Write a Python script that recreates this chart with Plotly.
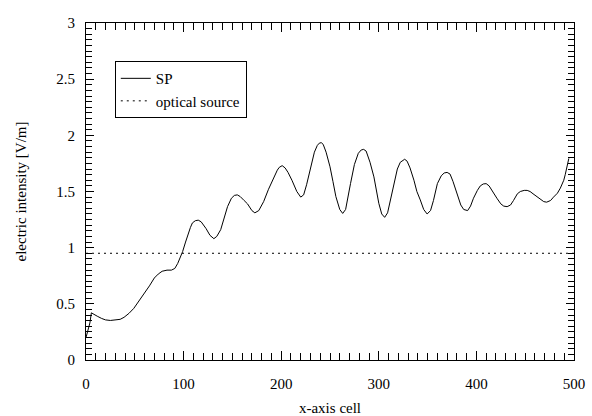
import plotly.graph_objects as go

# SP curve: x-axis cell vs electric intensity [V/m]
sp_x = [0, 1, 4, 5.5, 8, 11.5, 16, 20, 25, 30.5, 35, 39, 44, 49, 54, 59.5, 65, 70,
        74, 78, 83, 87.5, 91, 94, 97, 99, 102, 104, 107, 109, 112, 115, 118, 123,
        127, 131, 134, 138, 141, 145, 149, 152, 155, 158, 162, 165.5, 170, 173,
        177, 182, 187, 192, 196, 198, 201, 204, 207, 211, 216, 220, 223, 226,
        230, 234, 237, 239, 241, 243, 246, 250, 253, 256, 260, 263, 266, 268,
        271, 275, 279, 282, 284.5, 287, 291, 295, 300, 303, 306, 309, 312, 315,
        319, 322, 324.5, 326.5, 329, 332, 336, 339, 342.5, 346, 349.5, 353,
        356, 360, 364, 367, 370, 373, 376, 380, 384, 387, 391, 394, 397, 401,
        404, 407, 410, 413, 417, 421, 425, 428, 431.5, 435, 438, 442, 445, 449,
        452, 455, 458, 462, 466, 469, 472, 476, 479, 483, 486, 489.5, 491, 493,
        494, 494.7]
sp_y = [0.20, 0.23, 0.33, 0.42, 0.41, 0.39, 0.37, 0.357, 0.352, 0.355, 0.362,
        0.38, 0.415, 0.46, 0.52, 0.59, 0.66, 0.73, 0.765, 0.79, 0.80, 0.80,
        0.815, 0.86, 0.915, 0.965, 1.05, 1.11, 1.18, 1.22, 1.24, 1.245, 1.23,
        1.17, 1.11, 1.08, 1.10, 1.16, 1.25, 1.365, 1.44, 1.465, 1.47, 1.455,
        1.42, 1.39, 1.33, 1.31, 1.33, 1.41, 1.52, 1.62, 1.69, 1.715, 1.73,
        1.71, 1.67, 1.60, 1.50, 1.45, 1.47, 1.56, 1.72, 1.85, 1.91, 1.93,
        1.935, 1.92, 1.85, 1.72, 1.59, 1.455, 1.34, 1.305, 1.34, 1.42, 1.57,
        1.74, 1.84, 1.87, 1.875, 1.86, 1.76, 1.63, 1.395, 1.30, 1.27, 1.31,
        1.43, 1.57, 1.70, 1.76, 1.78, 1.787, 1.77, 1.71, 1.60, 1.50, 1.425,
        1.34, 1.30, 1.33, 1.42, 1.57, 1.64, 1.665, 1.67, 1.655, 1.59, 1.48,
        1.38, 1.34, 1.33, 1.37, 1.44, 1.51, 1.55, 1.567, 1.57, 1.55, 1.49,
        1.44, 1.39, 1.37, 1.365, 1.38, 1.42, 1.48, 1.50, 1.51, 1.51, 1.50,
        1.48, 1.455, 1.425, 1.41, 1.405, 1.42, 1.45, 1.485, 1.53, 1.60, 1.65,
        1.72, 1.76, 1.795]

# optical source level
src_x = [0, 500]
src_y = [0.95, 0.95]

FONT = "Liberation Serif"

fig = go.Figure()
fig.add_trace(go.Scatter(x=sp_x, y=sp_y, mode="lines", name="SP",
                         line=dict(color="black", width=1)))
fig.add_trace(go.Scatter(x=src_x, y=src_y, mode="lines", name="optical source",
                         line=dict(color="black", width=1, dash="2px,4px")))

fig.update_xaxes(range=[0, 500], dtick=100, ticks="inside", ticklen=9, tickwidth=1,
                 tickcolor="rgb(0,0,0)",
                 showline=True, linecolor="black", mirror="allticks", automargin=False,
                 minor=dict(dtick=10, ticks="inside", ticklen=7, tickwidth=1, tickcolor="rgb(0,0,0)"),
                 ticklabelstandoff=10,
                 tickfont=dict(family=FONT, size=15, color="black"),
                 title=dict(text="x-axis cell", font=dict(family=FONT, size=15, color="black"),
                            standoff=12))
fig.update_yaxes(range=[0, 3], dtick=0.5, ticks="inside", ticklen=8, tickwidth=1,
                 tickcolor="rgb(0,0,0)",
                 showline=True, linecolor="black", mirror="allticks", automargin=False,
                 minor=dict(dtick=0.05, ticks="inside", ticklen=6, tickwidth=1, tickcolor="rgb(0,0,0)"),
                 ticklabelstandoff=7,
                 tickfont=dict(family=FONT, size=15, color="black"),
                 title=dict(text="electric intensity [V/m]", font=dict(family=FONT, size=15, color="black"),
                            standoff=26))

fig.update_layout(
    width=592, height=416,
    margin=dict(l=86, r=18, t=23, b=56),
    plot_bgcolor="white",
    showlegend=True,
    legend=dict(x=0.059, y=0.887, xanchor="left", yanchor="top",
                bgcolor="white", bordercolor="black", borderwidth=1,
                font=dict(family=FONT, size=15, color="black")),
)

fig.write_html("out.html")
